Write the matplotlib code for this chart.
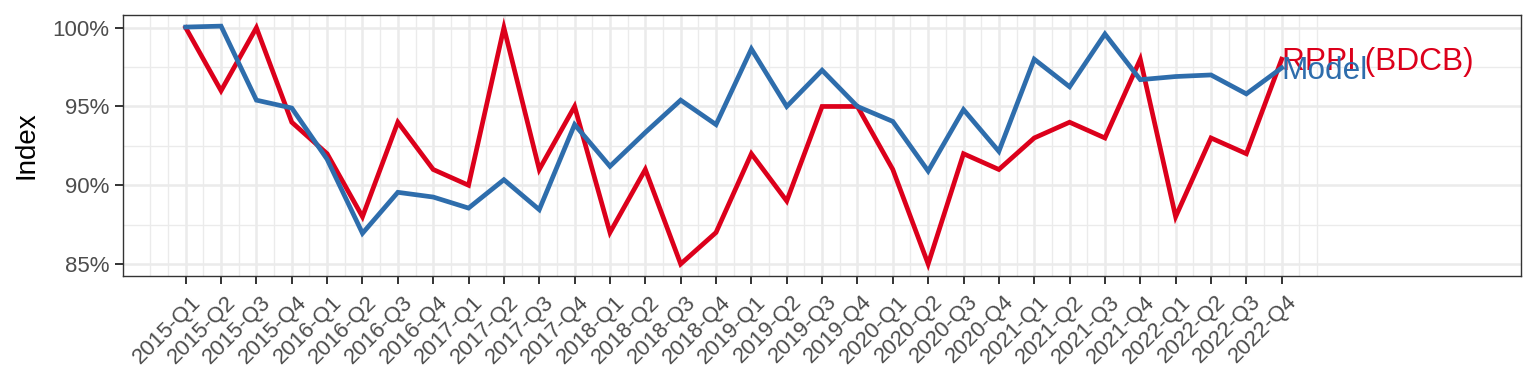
import matplotlib
matplotlib.use("Agg")
import matplotlib.pyplot as plt
import matplotlib.ticker as mticker
import matplotlib.transforms as mtransforms
import numpy as np

plt.rcParams['font.family'] = ['Liberation Sans', 'DejaVu Sans']

quarters = [f"{y}-Q{q}" for y in range(2015, 2023) for q in range(1, 5)]
rppi = [100, 96, 100, 94, 92, 88, 94, 91, 90, 100, 91, 95, 87, 91, 85, 87,
        92, 89, 95, 95, 91, 85, 92, 91, 93, 94, 93, 98, 88, 93, 92, 98]
model = [100.04, 100.1, 95.4, 94.9, 91.65, 86.95, 89.55, 89.25, 88.55, 90.35,
         88.45, 93.85, 91.2, 93.35, 95.4, 93.85, 98.65, 95.0, 97.3, 95.0,
         94.05, 90.9, 94.8, 92.15, 98.0, 96.25, 99.6, 96.7, 96.9, 97.0, 95.8, 97.45]
series_names = ["RPPI (BDCB)", "Model"]
y_ticks = [85, 90, 95, 100]

RED = "#DC001B"
BLUE = "#2E6DAC"
GRID = "#EBEBEB"
DARK = "#333333"

fig = plt.figure(figsize=(15.36, 3.84), dpi=100)
ax = fig.add_axes([122.7/1536, 1-275.5/384, (1520.7-122.7)/1536, (275.5-15)/384])

x = np.arange(len(quarters))
ax.plot(x, rppi, color=RED, lw=3.4, solid_joinstyle='miter', zorder=3)
ax.plot(x, model, color=BLUE, lw=3.4, solid_joinstyle='miter', zorder=3)

ax.set_xlim(-1.782, 37.76)
ax.set_ylim(84.27, 100.806)

# labels at the end of each line
off = mtransforms.ScaledTranslation(0, -8.0/72, fig.dpi_scale_trans)
ax.text(x[-1], rppi[-1], series_names[0], color=RED, fontsize=22.8,
        ha='left', va='baseline', transform=ax.transData + off, zorder=4)
ax.text(x[-1], model[-1], series_names[1], color=BLUE, fontsize=22.8,
        ha='left', va='baseline', transform=ax.transData + off, zorder=4)

# ticks
ax.set_xticks(x)
ax.set_xticklabels(quarters, rotation=45, ha='right', va='top',
                   rotation_mode='anchor', fontsize=16, color='#4D4D4D')
minor_x = [v for v in np.arange(-1, 32.01, 0.5) if v not in set(range(0, 32))]
ax.xaxis.set_minor_locator(mticker.FixedLocator(minor_x))
ax.set_yticks(y_ticks)
ax.yaxis.set_major_formatter(mticker.FuncFormatter(lambda v, p: f"{v:.0f}%"))
ax.yaxis.set_minor_locator(mticker.FixedLocator([87.5, 92.5, 97.5]))
ax.tick_params(axis='both', which='major', length=5.5, width=1.4, color=DARK,
               labelsize=16, labelcolor='#4D4D4D', pad=4)
ax.tick_params(axis='both', which='minor', length=0)
ax.tick_params(axis='x', which='major', pad=6)
for lbl in ax.get_xticklabels():
    lbl.set_transform(lbl.get_transform() +
                      mtransforms.ScaledTranslation(3/72, 0, fig.dpi_scale_trans))

ax.grid(which='major', color=GRID, lw=1.8, zorder=0)
ax.grid(which='minor', color=GRID, lw=0.95, zorder=0)
ax.set_axisbelow(True)

for s in ax.spines.values():
    s.set_color(DARK)
    s.set_linewidth(1.0)

ax.set_ylabel("Index", fontsize=20, color='black')
ax.yaxis.label.set_va('center')
ax.yaxis.label.set_ha('center')
ax.yaxis.set_label_coords((26-122.7)/(1520.7-122.7), 0.5)

fig.savefig("out.png", dpi=100, facecolor='white')
